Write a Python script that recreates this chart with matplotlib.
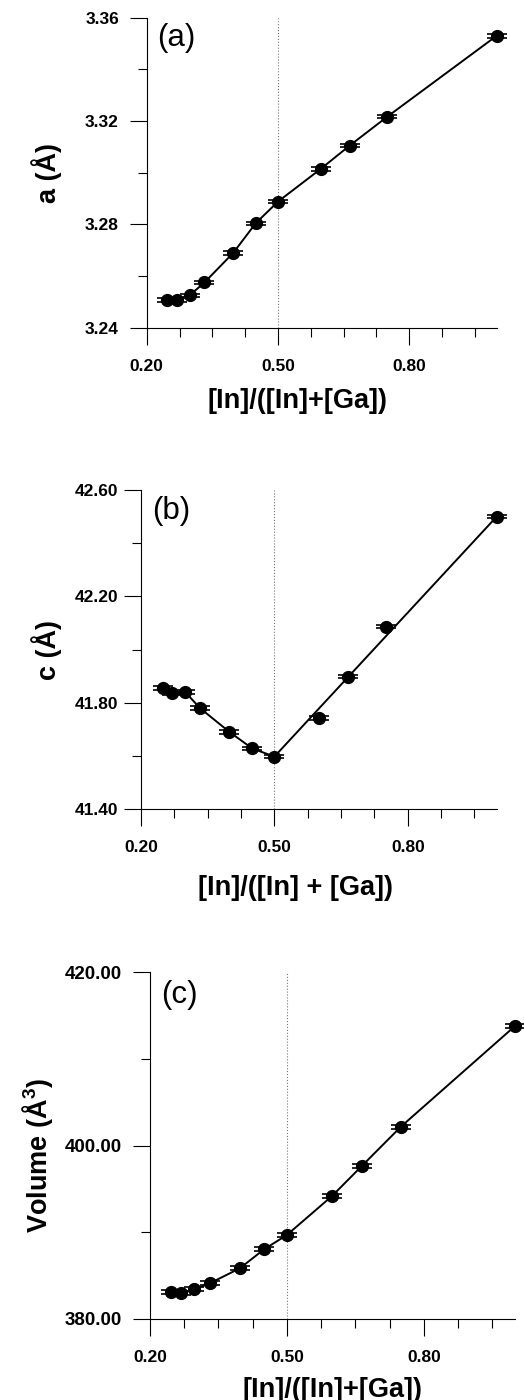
import numpy as np
import matplotlib.pyplot as plt
from matplotlib.ticker import FixedLocator, FormatStrFormatter

plt.rcParams['font.family'] = ['Liberation Sans', 'DejaVu Sans']
plt.rcParams['mathtext.fontset'] = 'custom'
plt.rcParams['mathtext.bf'] = 'Liberation Sans:bold'
plt.rcParams['mathtext.rm'] = 'Liberation Sans'

# composition [In]/([In]+[Ga])
x_a = [0.246, 0.270, 0.298, 0.332, 0.398, 0.449, 0.500, 0.598, 0.664, 0.750, 1.000]
a_vals = [3.2507, 3.2507, 3.2525, 3.2575, 3.2690, 3.2804, 3.2888, 3.3015, 3.3105, 3.3217, 3.3530]
a_err = [0.0007] * 11

x_c = [0.249, 0.270, 0.300, 0.333, 0.398, 0.450, 0.500, 0.601, 0.666, 0.752, 1.000]
c_vals = [41.854, 41.835, 41.839, 41.779, 41.691, 41.628, 41.597, 41.741, 41.898, 42.086, 42.500]
c_err = [0.007] * 11

x_v = [0.246, 0.268, 0.297, 0.331, 0.397, 0.450, 0.500, 0.599, 0.665, 0.750, 1.000]
v_vals = [383.08, 382.96, 383.42, 384.12, 385.85, 388.04, 389.69, 394.19, 397.69, 402.19, 413.80]
v_err = [0.22] * 11

x_major = [0.20, 0.50, 0.80]
x_minor = [0.275, 0.35, 0.425, 0.575, 0.65, 0.725, 0.875, 0.95]

fig = plt.figure(figsize=(5.24, 14), dpi=100)

# panel geometry in pixels: left, right, top, bottom
boxes = [(146.7, 496.7, 17.7, 327.7), (141, 496.7, 490, 809), (150, 515, 972.3, 1319)]


def make_axes(box):
    l, r, t, b = box
    return fig.add_axes([l / 524, 1 - b / 1400, (r - l) / 524, (b - t) / 1400])


def style(ax, ylim, ymaj, ymin, ylabel, xlabel, tag, ylab_x, ylab_y, xlab_x, xlab_y, ypad, ysize):
    ax.set_xlim(0.2, 1.0)
    ax.set_ylim(*ylim)
    for s in ['top', 'right']:
        ax.spines[s].set_visible(False)
    for s in ['left', 'bottom']:
        ax.spines[s].set_linewidth(0.8)
    ax.xaxis.set_major_locator(FixedLocator(x_major))
    ax.xaxis.set_minor_locator(FixedLocator(x_minor))
    ax.yaxis.set_major_locator(FixedLocator(ymaj))
    ax.yaxis.set_minor_locator(FixedLocator(ymin))
    ax.xaxis.set_major_formatter(FormatStrFormatter('%.2f'))
    ax.yaxis.set_major_formatter(FormatStrFormatter('%.2f'))
    ax.tick_params(which='major', length=12.5, width=0.8, direction='out')
    ax.tick_params(which='minor', length=6.5, width=0.8, direction='out')
    ax.tick_params(axis='x', which='major', pad=10, labelsize=12.5)
    ax.tick_params(axis='y', which='major', pad=ypad, labelsize=ysize)
    for lab in ax.get_xticklabels() + ax.get_yticklabels():
        lab.set_fontweight('bold')
    ax.set_ylabel(ylabel, fontsize=19.5, fontweight='bold')
    ax.yaxis.set_label_coords(ylab_x, ylab_y)
    ax.set_xlabel(xlabel, fontsize=19.5, fontweight='bold')
    ax.xaxis.set_label_coords(xlab_x, xlab_y)
    ax.axvline(0.5, color='#777777', linestyle=':', linewidth=0.8, zorder=0)
    ax.text(0.03, 0.935, tag, transform=ax.transAxes, fontsize=22.5, ha='left', va='center')


def points(ax, x, y, err):
    ax.errorbar(x, y, yerr=err, fmt='o', color='black', ms=8.5, elinewidth=1.2,
                capsize=7.5, capthick=1.2, zorder=3, clip_on=False)


# (a) lattice parameter a
ax1 = make_axes(boxes[0])
ax1.plot(x_a, a_vals, color='black', lw=1.4, zorder=2, clip_on=False)
points(ax1, x_a, a_vals, a_err)
style(ax1, (3.24, 3.36), [3.24, 3.28, 3.32, 3.36], [3.26, 3.30, 3.34],
      'a (Å)', '[In]/([In]+[Ga])', '(a)', -0.242, 0.5, 0.43, -0.195, 7.5, 12.5)

# (b) lattice parameter c: segments through the In-poor points, then straight to the end
ax2 = make_axes(boxes[1])
line_x = x_c[:7] + [x_c[-1]]
line_y = c_vals[:7] + [c_vals[-1]]
ax2.plot(line_x, line_y, color='black', lw=1.4, zorder=2, clip_on=False)
points(ax2, x_c, c_vals, c_err)
style(ax2, (41.40, 42.60), [41.40, 41.80, 42.20, 42.60], [41.60, 42.00, 42.40],
      'c (Å)', '[In]/([In] + [Ga])', '(b)', -0.222, 0.5, 0.434, -0.207, 4, 12.5)

# (c) cell volume
ax3 = make_axes(boxes[2])
ax3.plot(x_v, v_vals, color='black', lw=1.4, zorder=2, clip_on=False)
points(ax3, x_v, v_vals, v_err)
style(ax3, (380, 420), [380, 400, 420], [390, 410],
      r'Volume (Å$^{\mathbf{3}}$)', '[In]/([In]+[Ga])', '(c)', -0.26, 0.473, 0.499, -0.166, 8, 13.5)

fig.savefig('out.png', dpi=100)
